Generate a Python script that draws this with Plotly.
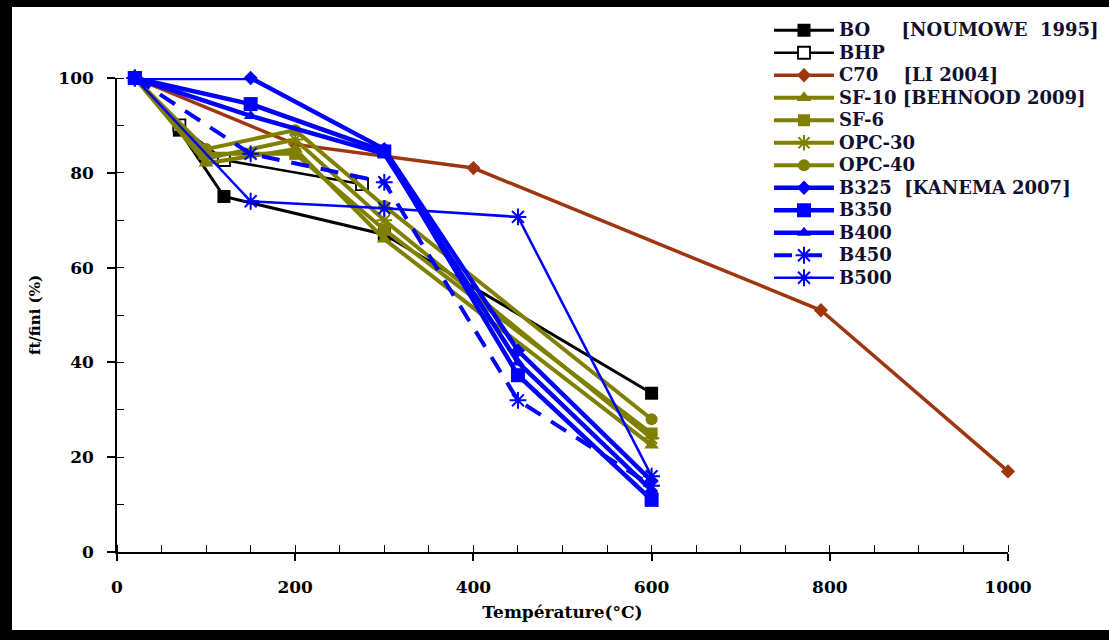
import plotly.graph_objects as go

NB = "\u00a0"

# ---- data ----
bo_x = [20, 70, 120, 300, 600]
bo_y = [100, 89, 75, 67, 33.5]
bhp_x = [20, 70, 120, 275]
bhp_y = [100, 90, 82.7, 77.6]
c70_x = [20, 200, 400, 790, 1000]
c70_y = [100, 86, 81, 51, 17]
olive_x = [20, 100, 200, 300, 600]
sf10_y = [100, 82, 85, 66, 22.5]
sf6_y = [100, 84, 84, 68, 25]
opc30_y = [100, 83, 87, 70, 24]
opc40_y = [100, 85, 89, 73, 28]
blue_x = [20, 150, 300, 450, 600]
b325_y = [100, 100, 85, 42.5, 15]
b350_y = [100, 94.5, 84.5, 37.3, 11]
b400_y = [100, 92, 84, 40, 13]
b450_y = [100, 84, 78, 32, 14]
b500_y = [100, 74, 72.5, 70.7, 16]

series_names = ["BO", "BHP", "C70", "SF-10", "SF-6", "OPC-30", "OPC-40",
                "B325", "B350", "B400", "B450", "B500"]
citations = {"BO": (5, "[NOUMOWE" + NB * 2 + "1995]"),
             "C70": (4, "[LI 2004]"),
             "SF-10": (1, "[BEHNOOD 2009]"),
             "B325": (2, "[KANEMA 2007]")}

def label(n):
    t = n
    if n in citations:
        k, c = citations[n]
        t = n + NB * k + c
    return '<span style="font-size:18px">' + t + '</span>'

OLIVE = "#808000"
BROWN = "#a0360f"
BLUE = "#0000ff"

fig = go.Figure()

def add(x, y, name, color, lw, symbol, msize, dash="solid", mfill=None, mline=0, mlinecolor=None):
    fig.add_trace(go.Scatter(
        x=x, y=y, name=label(name), mode="lines+markers",
        line=dict(color=color, width=lw, dash=dash),
        marker=dict(symbol=symbol, size=msize,
                    color=mfill if mfill else color,
                    line=dict(width=mline, color=mlinecolor if mlinecolor else color)),
        cliponaxis=False,
    ))

add(bo_x, bo_y, "BO", "black", 3, "square", 13)
add(bhp_x, bhp_y, "BHP", "black", 2.5, "square", 12, mfill="white", mline=1.8, mlinecolor="black")
add(c70_x, c70_y, "C70", BROWN, 3.5, "diamond", 11)
add(olive_x, sf10_y, "SF-10", OLIVE, 4, "triangle-up", 13)
add(olive_x, sf6_y, "SF-6", OLIVE, 4, "square", 12)
add(olive_x, opc30_y, "OPC-30", OLIVE, 4, "asterisk-open", 13, mline=2)
add(olive_x, opc40_y, "OPC-40", OLIVE, 4, "circle", 12)
add(blue_x, b325_y, "B325", BLUE, 4.5, "diamond", 11)
add(blue_x, b350_y, "B350", BLUE, 4.5, "square", 14)
add(blue_x, b400_y, "B400", BLUE, 4.5, "triangle-up", 12)
add(blue_x, b450_y, "B450", BLUE, 4, "asterisk-open", 14, dash="18px,12px", mline=2)
add(blue_x, b500_y, "B500", BLUE, 2.5, "asterisk-open", 14, mline=2)

W, H = 1109, 640
L, R, T, B = 117, 101, 78, 88
pw, ph = W - L - R, H - T - B

def px(xp):
    return (xp - L) / pw

def py(yp):
    return (H - B - yp) / ph

shapes = [
    dict(type="rect", xref="paper", yref="paper", x0=px(0), x1=px(12), y0=py(0), y1=py(640),
         fillcolor="black", line=dict(width=0), layer="above"),
    dict(type="rect", xref="paper", yref="paper", x0=px(0), x1=px(1109), y0=py(0), y1=py(7),
         fillcolor="black", line=dict(width=0), layer="above"),
    dict(type="rect", xref="paper", yref="paper", x0=px(0), x1=px(1109), y0=py(630), y1=py(640),
         fillcolor="black", line=dict(width=0), layer="above"),
]

FAM = "DejaVu Serif"
font_tick = dict(family=FAM, size=17, color="black", weight="bold")

fig.update_layout(
    width=W, height=H,
    margin=dict(l=L, r=R, t=T, b=B, autoexpand=False),
    paper_bgcolor="white", plot_bgcolor="white",
    shapes=shapes,
    showlegend=True,
    legend=dict(
        x=px(769), y=py(14), xanchor="left", yanchor="top",
        bgcolor="rgba(0,0,0,0)", borderwidth=0,
        font=dict(family=FAM, size=15, color="#101030", weight="bold"),
        itemwidth=60, tracegroupgap=0,
    ),
    xaxis=dict(
        range=[0, 1000], showgrid=False, zeroline=False,
        showline=True, linecolor="black", linewidth=1.5,
        tickmode="array", tickvals=[0, 200, 400, 600, 800, 1000],
        ticks="outside", ticklen=7, tickwidth=1.5, tickcolor="black",
        minor=dict(dtick=50, ticks="inside", ticklen=7, tickwidth=1.2, tickcolor="black"),
        tickfont=font_tick, ticklabelstandoff=12,
        title=dict(text="Température(°C)", standoff=10,
                   font=dict(family=FAM, size=17, color="black", weight="bold")),
    ),
    yaxis=dict(
        range=[0, 100], showgrid=False, zeroline=False,
        showline=True, linecolor="black", linewidth=1.5,
        tickmode="array", tickvals=[0, 20, 40, 60, 80, 100],
        ticks="outside", ticklen=8, tickwidth=1.5, tickcolor="black",
        minor=dict(dtick=10, ticks="inside", ticklen=7, tickwidth=1.2, tickcolor="black"),
        tickfont=font_tick, ticklabelstandoff=10,
        title=dict(text="ft/fini (%)", standoff=14,
                   font=dict(family=FAM, size=15, color="black", weight="bold")),
    ),
)

fig.write_html("out.html")
